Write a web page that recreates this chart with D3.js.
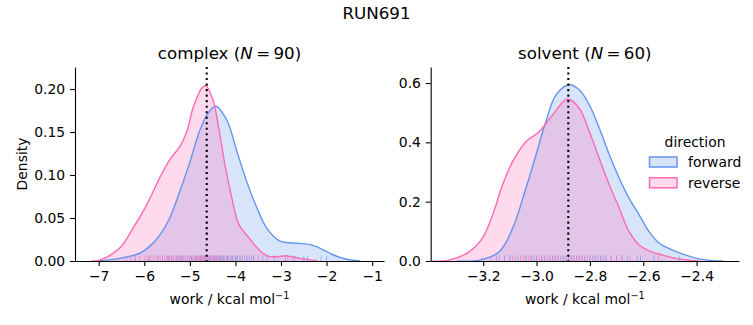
<!DOCTYPE html>
<html><head><meta charset="utf-8">
<script src="https://cdn.jsdelivr.net/npm/d3@7"></script>
<style>body{margin:0;background:#fff} svg{display:block} text{font-family:"DejaVu Sans",sans-serif;fill:#000}</style>
</head><body><svg id="c" width="753" height="325"></svg>
<script>
// ---------------- data ----------------
const figureTitle = "RUN691";
const directions = ["forward", "reverse"];
const directionColors = ["#6495ED", "#FF69B4"];

// complex panel: KDE curves
const complexFwdX = [-7.05,-6.54,-6.10,-5.88,-5.66,-5.44,-5.22,-5.00,-4.78,-4.60,-4.43,-4.19,-3.97,-3.75,-3.53,-3.31,-3.02,-2.73,-2.36,-2.07,-1.85,-1.56,-1.26];
const complexFwdY = [0,0.003,0.009,0.017,0.030,0.050,0.081,0.115,0.152,0.172,0.180,0.164,0.128,0.092,0.062,0.038,0.023,0.021,0.019,0.013,0.007,0.002,0];
const complexRevX = [-7.15,-6.98,-6.54,-6.25,-5.95,-5.66,-5.44,-5.22,-5.07,-4.93,-4.75,-4.65,-4.49,-4.37,-4.23,-4.09,-3.92,-3.72,-3.52,-3.30,-3.09,-2.87,-2.58,-2.20];
const complexRevY = [0,0.001,0.015,0.038,0.065,0.097,0.118,0.133,0.150,0.178,0.200,0.204,0.187,0.156,0.112,0.076,0.042,0.028,0.015,0.006,0.005,0.006,0.003,0];
// solvent panel
const solventFwdX = [-3.30,-3.215,-3.140,-3.090,-3.040,-3.002,-2.965,-2.927,-2.877,-2.840,-2.802,-2.765,-2.727,-2.690,-2.653,-2.615,-2.578,-2.540,-2.490,-2.440,-2.390,-2.340,-2.30];
const solventFwdY = [0,0.003,0.031,0.110,0.245,0.358,0.470,0.560,0.594,0.577,0.526,0.448,0.358,0.279,0.211,0.155,0.099,0.060,0.037,0.020,0.007,0.001,0];
const solventRevX = [-3.39,-3.328,-3.253,-3.203,-3.165,-3.128,-3.090,-3.040,-2.990,-2.940,-2.884,-2.840,-2.802,-2.765,-2.727,-2.690,-2.653,-2.615,-2.578,-2.527,-2.477,-2.427,-2.39];
const solventRevY = [0,0.003,0.031,0.077,0.155,0.256,0.335,0.402,0.436,0.492,0.546,0.515,0.436,0.346,0.256,0.178,0.099,0.054,0.034,0.020,0.009,0.003,0];

// rug samples (estimated)
const complexFwdRug = [-6.2,-5.9,-5.7,-5.6,-5.5,-5.45,-5.4,-5.3,-5.25,-5.2,-5.15,-5.1,-5.05,-5.0,-4.97,-4.95,-4.9,-4.87,-4.85,-4.8,-4.77,-4.75,-4.7,-4.68,-4.65,-4.6,-4.57,-4.55,-4.5,-4.47,-4.45,-4.42,-4.38,-4.35,-4.32,-4.3,-4.27,-4.25,-4.2,-4.17,-4.15,-4.1,-4.07,-4.05,-4.0,-3.97,-3.95,-3.9,-3.85,-3.8,-3.75,-3.7,-3.65,-3.6,-3.5,-3.4,-3.3,-3.15,-2.9,-2.7,-2.5,-2.42,-2.12,-2.0];
const complexRevRug = [-6.4,-6.3,-6.2,-6.1,-6.0,-5.95,-5.9,-5.85,-5.8,-5.75,-5.7,-5.65,-5.6,-5.55,-5.5,-5.47,-5.45,-5.4,-5.37,-5.35,-5.3,-5.27,-5.22,-5.18,-5.15,-5.1,-5.05,-5.0,-4.97,-4.95,-4.9,-4.87,-4.85,-4.82,-4.8,-4.77,-4.75,-4.73,-4.7,-4.67,-4.64,-4.61,-4.58,-4.55,-4.52,-4.48,-4.45,-4.42,-4.4,-4.35,-4.3,-4.25,-4.18,-4.1,-4.0,-3.9,-3.75,-3.6,-2.85,-2.75];
const solventFwdRug = [-3.15,-3.12,-3.1,-3.07,-3.04,-3.02,-3.01,-3.0,-2.98,-2.97,-2.96,-2.95,-2.94,-2.93,-2.92,-2.91,-2.9,-2.89,-2.88,-2.87,-2.86,-2.85,-2.84,-2.83,-2.82,-2.81,-2.8,-2.79,-2.78,-2.77,-2.76,-2.75,-2.74,-2.72,-2.7,-2.68,-2.66,-2.622,-2.61,-2.56,-2.465];
const solventRevRug = [-3.17,-3.14,-3.12,-3.1,-3.09,-3.08,-3.06,-3.05,-3.04,-3.03,-3.02,-3.0,-2.99,-2.98,-2.97,-2.95,-2.94,-2.93,-2.92,-2.9,-2.89,-2.88,-2.87,-2.86,-2.85,-2.84,-2.83,-2.82,-2.8,-2.78,-2.76,-2.74,-2.72,-2.7,-2.68,-2.65,-2.543];

// dotted reference lines
const complexMarker = -4.63;
const solventMarker = -2.881;

// ticks
const complexXTicks = [-7,-6,-5,-4,-3,-2,-1];
const complexYTicks = [0,0.05,0.10,0.15,0.20];
const solventXTicks = [-3.2,-3.0,-2.8,-2.6,-2.4];
const solventYTicks = [0,0.2,0.4,0.6];

const panelNames = ["complex", "solvent"];
const panelN = [90, 60];

// ---------------- drawing ----------------
const svg = d3.select("#c");
const FS = 13.9;

svg.append("text").attr("x", 376.5).attr("y", 19).attr("text-anchor","middle")
  .style("font-size","16.7px").text(figureTitle);

const panels = [
  {name: panelNames[0], n: panelN[0], x0:75, x1:384, xd:[-7.52,-0.74], yd:[0,0.2256],
   xt: complexXTicks, yt: complexYTicks, xf: d3.format("d"), yf: d3.format(".2f"),
   curves: [[complexFwdX, complexFwdY],[complexRevX, complexRevY]],
   rugs: [complexFwdRug, complexRevRug], marker: complexMarker, ylabel: true},
  {name: panelNames[1], n: panelN[1], x0:430.7, x1:739, xd:[-3.397,-2.241], yd:[0,0.654],
   xt: solventXTicks, yt: solventYTicks, xf: d3.format(".1f"), yf: d3.format(".1f"),
   curves: [[solventFwdX, solventFwdY],[solventRevX, solventRevY]],
   rugs: [solventFwdRug, solventRevRug], marker: solventMarker, ylabel: false}
];
const yTop = 67, yBot = 261;
const curveType = d3.curveCatmullRom.alpha(0.5);

panels.forEach(p => {
  const x = d3.scaleLinear().domain(p.xd).range([p.x0, p.x1]);
  const y = d3.scaleLinear().domain(p.yd).range([yBot, yTop]);
  const g = svg.append("g");

  const area = d3.area().x(d => x(d[0])).y0(y(0)).y1(d => y(d[1])).curve(curveType);
  const line = d3.line().x(d => x(d[0])).y(d => y(d[1])).curve(curveType);

  p.curves.forEach((c, i) => {
    const pts = c[0].map((v, k) => [v, c[1][k]]);
    g.append("path").datum(pts).attr("d", area)
      .attr("fill", directionColors[i]).attr("fill-opacity", 0.25).attr("stroke","none");
  });
  p.curves.forEach((c, i) => {
    const pts = c[0].map((v, k) => [v, c[1][k]]);
    g.append("path").datum(pts).attr("d", line)
      .attr("fill","none").attr("stroke", directionColors[i]).attr("stroke-width", 1.4);
  });

  // rugs
  p.rugs.forEach((r, i) => {
    g.selectAll(null).data(r).enter().append("line")
      .attr("x1", d => x(d)).attr("x2", d => x(d))
      .attr("y1", yBot).attr("y2", yBot - 5.5)
      .attr("stroke", directionColors[i]).attr("stroke-opacity", 0.55).attr("stroke-width", 1);
  });

  // dotted marker
  g.append("line").attr("x1", x(p.marker)).attr("x2", x(p.marker))
    .attr("y1", yTop).attr("y2", yBot)
    .attr("stroke","#000").attr("stroke-width", 2.08).attr("stroke-dasharray","2.08,3.44");

  // axes
  const xa = g.append("g").attr("transform", `translate(0,${yBot})`)
    .call(d3.axisBottom(x).tickValues(p.xt).tickFormat(p.xf).tickSize(4.9).tickPadding(4.9).tickSizeOuter(0));
  const ya = g.append("g").attr("transform", `translate(${p.x0},0)`)
    .call(d3.axisLeft(y).tickValues(p.yt).tickFormat(p.yf).tickSize(4.9).tickPadding(4.9).tickSizeOuter(0));
  [xa, ya].forEach(a => {
    a.selectAll("path.domain").attr("stroke","#000").attr("stroke-width",1.1);
    a.selectAll(".tick line").attr("stroke","#000").attr("stroke-width",1.1);
    a.selectAll(".tick text").style("font-size", FS+"px").style("font-family","DejaVu Sans").attr("fill","#000");
  });

  // title
  const cx = (p.x0 + p.x1) / 2;
  const t = g.append("text").attr("x", cx).attr("y", 59).attr("text-anchor","middle").style("font-size","16.7px");
  t.append("tspan").text(p.name + " (");
  t.append("tspan").style("font-style","italic").text("N");
  t.append("tspan").text("\u2009=\u2009" + p.n + ")");

  // x label
  const xl = g.append("text").attr("x", cx).attr("y", 304).attr("text-anchor","middle").style("font-size", FS+"px");
  xl.append("tspan").text("work / kcal mol");
  xl.append("tspan").attr("dy", -5).style("font-size","9.7px").text("\u22121");

  if (p.ylabel) {
    g.append("text").attr("transform", `translate(27,${(yTop+yBot)/2}) rotate(-90)`)
      .attr("text-anchor","middle").style("font-size", FS+"px").text("Density");
  }
});

// legend
const lg = svg.append("g");
lg.append("text").attr("x", 695).attr("y", 146.5).attr("text-anchor","middle").style("font-size", FS+"px").text("direction");
directions.forEach((d, i) => {
  const yy = 157 + i * 20.8;
  lg.append("rect").attr("x", 649.5).attr("y", yy).attr("width", 27.5).attr("height", 10)
    .attr("fill", directionColors[i]).attr("fill-opacity", 0.25)
    .attr("stroke", directionColors[i]).attr("stroke-width", 1.5);
  lg.append("text").attr("x", 688).attr("y", yy + 10).style("font-size", FS+"px").text(d);
});
</script>
</body></html>
